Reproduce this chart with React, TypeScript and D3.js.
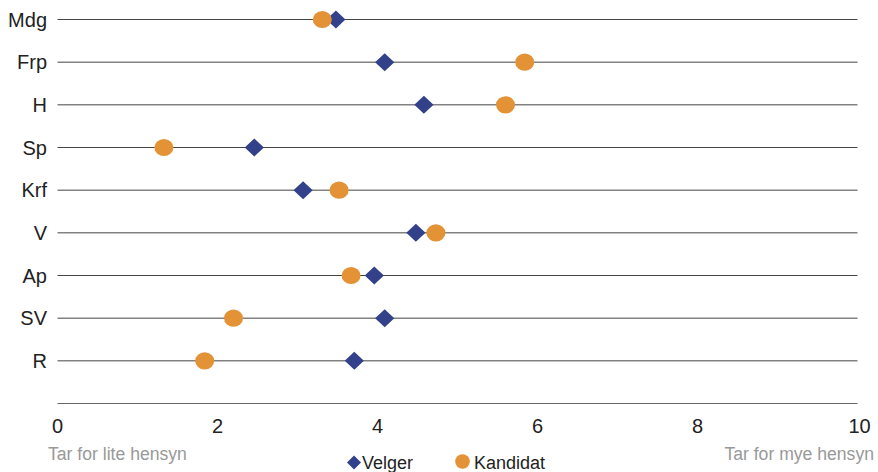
import React from "react";
import * as d3 from "d3";

const categories = ["Mdg", "Frp", "H", "Sp", "Krf", "V", "Ap", "SV", "R"];
const velger = [3.48, 4.09, 4.58, 2.46, 3.07, 4.48, 3.96, 4.09, 3.71];
const kandidat = [3.31, 5.84, 5.6, 1.33, 3.52, 4.73, 3.67, 2.2, 1.84];
const xTicks = [0, 2, 4, 6, 8, 10];
const seriesNames = ["Velger", "Kandidat"];
const axisLabels = ["Tar for lite hensyn", "Tar for mye hensyn"];

const W = 878;
const H = 472;
const NAVY = "#33418b";
const ORANGE = "#e39236";
const FONT = "'Liberation Sans', Arial, sans-serif";

export default function App() {
  const x = d3.scaleLinear().domain([0, 10]).range([57.5, 857.5]);
  const y = d3.scaleLinear().domain([0, categories.length]).range([19.5, 403.5]);
  const diamond = (cx: number, cy: number, rx: number, ry: number) =>
    `M${cx},${cy - ry}L${cx + rx},${cy}L${cx},${cy + ry}L${cx - rx},${cy}Z`;

  return (
    <svg
      width={W}
      height={H}
      style={{ position: "absolute", left: 0, top: 0, fontFamily: FONT }}
    >
      <rect width={W} height={H} fill="#fff" />
      {categories.map((c, i) => (
        <g key={c}>
          <line x1={x(0)} x2={x(10)} y1={y(i)} y2={y(i)} stroke="#444" strokeWidth={1} />
          <text x={47} y={y(i)} dy="0.36em" textAnchor="end" fontSize={20} fill="#222">
            {c}
          </text>
        </g>
      ))}
      <line x1={x(0)} x2={x(10)} y1={y(categories.length)} y2={y(categories.length)} stroke="#666" strokeWidth={1.2} />
      {xTicks.map((t) => (
        <text key={t} x={x(t) + (t === 10 ? 2 : 0)} y={433} textAnchor="middle" fontSize={20} fill="#222">
          {t}
        </text>
      ))}
      {categories.map((c, i) => (
        <g key={"m" + c}>
          <path d={diamond(x(velger[i]), y(i), 9.6, 9)} fill={NAVY} />
          <ellipse cx={x(kandidat[i])} cy={y(i)} rx={9.5} ry={8.6} fill={ORANGE} />
        </g>
      ))}
      <text x={48} y={460} fontSize={17.6} fill="#999">
        {axisLabels[0]}
      </text>
      <text x={874} y={460} textAnchor="end" fontSize={17.6} fill="#999">
        {axisLabels[1]}
      </text>
      <path d={diamond(354, 462.5, 7, 7)} fill={NAVY} />
      <text x={362} y={468.5} fontSize={18} fill="#222">
        {seriesNames[0]}
      </text>
      <circle cx={462.5} cy={461.5} r={7.3} fill={ORANGE} />
      <text x={474} y={468.5} fontSize={18} fill="#222">
        {seriesNames[1]}
      </text>
    </svg>
  );
}
